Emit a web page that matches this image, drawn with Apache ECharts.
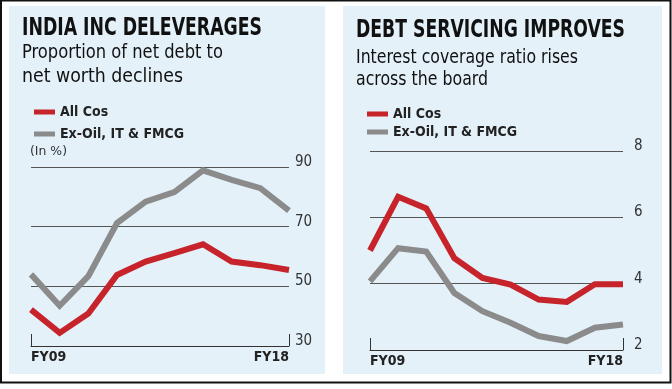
<!DOCTYPE html>
<html><head><meta charset="utf-8">
<script src="https://cdn.jsdelivr.net/npm/echarts@6/dist/echarts.min.js"></script>
<style>html,body{margin:0;padding:0;background:#fff}#c{width:672px;height:389px}</style>
</head><body><div id="c"></div>
<script>
const years = ['FY09','FY10','FY11','FY12','FY13','FY14','FY15','FY16','FY17','FY18'];
const debtAllCos = [42.2, 34.4, 40.9, 53.8, 58.3, 61.1, 64.1, 58.3, 57.1, 55.5];
const debtExOil = [54.0, 43.5, 53.4, 71.2, 78.4, 81.6, 88.9, 85.7, 82.9, 75.4];
const icrAllCos = [5.0, 6.62, 6.27, 4.77, 4.17, 3.97, 3.52, 3.45, 3.98, 3.98];
const icrExOil = [4.07, 5.07, 4.97, 3.72, 3.17, 2.82, 2.42, 2.27, 2.67, 2.77];
const seriesNames = ['All Cos', 'Ex-Oil, IT & FMCG'];

const RED = '#c6232b', GREY = '#8b8b8b', PANEL = '#e4f1f9';
const COND = "'DejaVu Sans Condensed', 'Liberation Sans Narrow', sans-serif";

const chart = echarts.init(document.getElementById('c'), null, {renderer: 'canvas'});
const mctx = document.createElement('canvas').getContext('2d');
function measure(text, size, weight, family) {
  mctx.font = weight + ' ' + size + 'px ' + family;
  return mctx.measureText(text).width;
}

function xAxisCfg(gi) {
  return {
    type: 'category', gridIndex: gi, data: years, boundaryGap: false,
    axisLine: {show: true, lineStyle: {color: '#333', width: 1}},
    axisTick: {show: true, inside: true, length: 12, lineStyle: {color: '#333'},
      interval: (i) => i === 0 || i === years.length - 1},
    axisLabel: {show: true, interval: (i) => i === 0 || i === years.length - 1,
      alignMinLabel: 'left', alignMaxLabel: 'right', margin: 4,
      fontFamily: COND, fontWeight: 'bold', fontSize: 14, color: '#222'}
  };
}
function yAxisCfg(gi, min, max, interval, margin) {
  return {
    type: 'value', gridIndex: gi, position: 'right', min, max, interval,
    axisLine: {show: false}, axisTick: {show: false},
    splitLine: {show: true, lineStyle: {color: '#555', width: 1}},
    axisLabel: {margin, fontFamily: COND, fontSize: 15, color: '#333',
      verticalAlign: 'bottom', lineHeight: 10}
  };
}
function line(name, xi, data, color) {
  return {type: 'line', name, xAxisIndex: xi, yAxisIndex: xi, data, symbol: 'none',
    lineStyle: {color, width: 6, join: 'miter'}, itemStyle: {color}, silent: true, animation: false};
}
function legendCfg(left, top, gap) {
  return {data: seriesNames, left, top, orient: 'vertical', icon: 'rect',
    itemWidth: 21, itemHeight: 5, itemGap: gap, selectedMode: false,
    textStyle: {fontFamily: COND, fontSize: 14, fontWeight: 'bold', color: '#222', padding: [0, 0, 0, 0]}};
}
// text squeezed horizontally to the measured width of the original lettering
function fitTxt(x, y, text, size, weight, width, color) {
  const w = measure(text, size, weight, COND);
  return {type: 'text', x, y, scaleX: width / w, scaleY: 1, silent: true,
    style: {x: 0, y: 0, text, fontSize: size, fontWeight: weight, fontFamily: COND,
      fill: color || '#111', verticalAlign: 'middle', align: 'left'}};
}

chart.setOption({
  animation: false,
  backgroundColor: '#fff',
  graphic: [
    {type: 'rect', shape: {x: 1, y: 0.5, width: 669.5, height: 382}, style: {fill: '#fff', stroke: '#111', lineWidth: 2}, z: -10},
    {type: 'rect', shape: {x: 9, y: 6, width: 316, height: 368}, style: {fill: PANEL}, z: -9},
    {type: 'rect', shape: {x: 343, y: 6, width: 319, height: 368}, style: {fill: PANEL}, z: -9},
    fitTxt(22, 28.5, 'INDIA INC DELEVERAGES', 24, 'bold', 240),
    fitTxt(22, 53.5, 'Proportion of net debt to', 19, 'normal', 201),
    fitTxt(22, 77, 'net worth declines', 19, 'normal', 161),
    fitTxt(30, 152, '(In %)', 13, 'normal', 37, '#333'),
    fitTxt(356, 30, 'DEBT SERVICING IMPROVES', 25, 'bold', 269),
    fitTxt(356, 58, 'Interest coverage ratio rises', 19, 'normal', 222),
    fitTxt(356, 80.5, 'across the board', 19, 'normal', 132)
  ],
  legend: [legendCfg(29, 100, 8), legendCfg(362, 102, 4)],
  grid: [
    {left: 31, right: 383, top: 167, bottom: 43, containLabel: false},
    {left: 370, right: 49, top: 151, bottom: 39, containLabel: false}
  ],
  xAxis: [xAxisCfg(0), xAxisCfg(1)],
  yAxis: [yAxisCfg(0, 30, 90, 20, 6), yAxisCfg(1, 2, 8, 2, 11)],
  series: [
    line(seriesNames[1], 0, debtExOil, GREY),
    line(seriesNames[0], 0, debtAllCos, RED),
    line(seriesNames[1], 1, icrExOil, GREY),
    line(seriesNames[0], 1, icrAllCos, RED)
  ]
});
</script></body></html>
